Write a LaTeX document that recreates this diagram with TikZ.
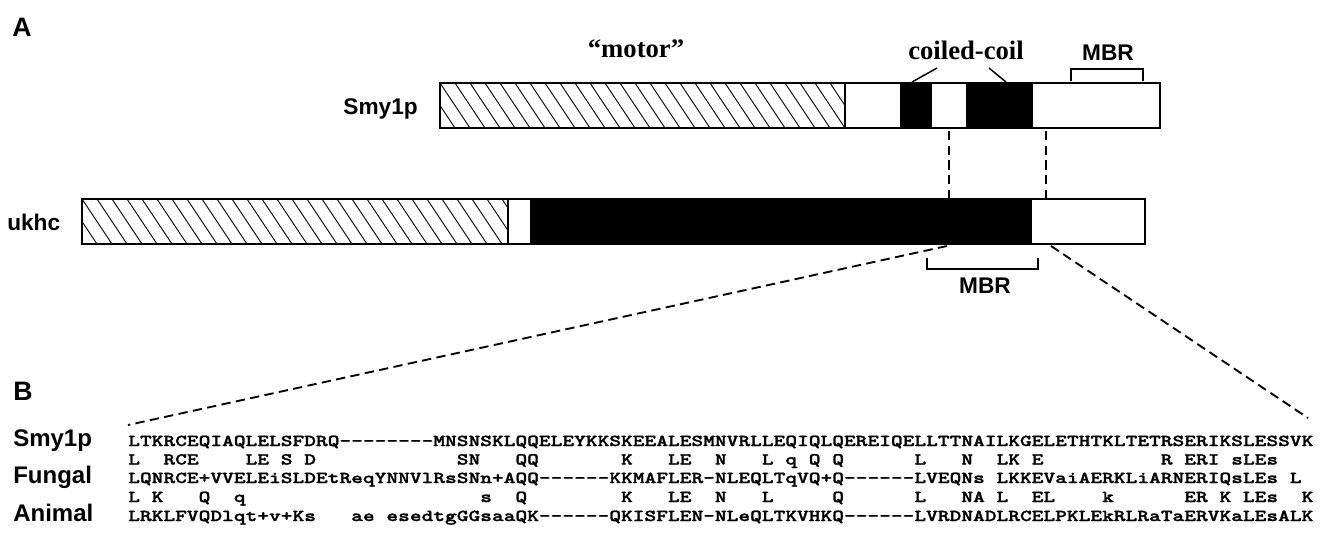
\documentclass[tikz,border=0pt]{standalone}
\usepackage{fontspec}
\newfontfamily\labfont{Liberation Sans}
\newfontfamily\serfont{Liberation Serif}
\newfontfamily\seqfont[Extension=.otf,FakeStretch=1.341,FakeBold=1.6]{lmmonolt10-bold}
\def\seqloop#1{\ifx#1\relax\else\ifx#1.\hbox{\phantom{L}}\else\hbox{#1}\fi\expandafter\seqloop\fi}
\newcommand\seqline[1]{\seqloop#1\relax}
\tikzset{
  lab/.style={font=\labfont\bfseries\fontsize{17pt}{19pt}\selectfont, inner sep=0},
  rowlab/.style={font=\labfont\bfseries\fontsize{18pt}{20pt}\selectfont, inner sep=0, anchor=base west},
  panel/.style={font=\labfont\bfseries\fontsize{20pt}{22pt}\selectfont, inner sep=0},
  serlab/.style={font=\serfont\bfseries\fontsize{20pt}{22pt}\selectfont, inner sep=0},
  seqtxt/.style={font=\seqfont\fontsize{12.5pt}{13pt}\selectfont, anchor=base west, inner sep=0},
  barline/.style={line width=1.5pt},
  sepline/.style={line width=1.1pt},
  hatchline/.style={line width=0.7pt},
  bracket/.style={line width=1.1pt},
  guide/.style={line width=1.4pt, dash pattern=on 7pt off 4pt},
  leader/.style={line width=1.1pt}
}
\begin{document}
\begin{tikzpicture}[x=0.75pt,y=-0.75pt]
\useasboundingbox (0,0) rectangle (1335,540);

% panel letters
\node[panel] (pA) at (22,27) {A};
\node[panel] (pB) at (23,391) {B};

% ---------- Smy1p bar ----------
\begin{scope}
  \clip (440,83) rectangle (845,128);
  \foreach \x in {410,425,...,845} \draw[hatchline] (\x,83) -- (\x+30,128);
\end{scope}
\fill (900,83) rectangle (932,128);
\fill (966,83) rectangle (1033,128);
\draw[sepline] (845,83) -- (845,128);
\draw[barline] (440,83) rectangle (1160,128);

% ---------- ukhc bar ----------
\begin{scope}
  \clip (82,199) rectangle (508,244);
  \foreach \x in {52,67,...,508} \draw[hatchline] (\x,199) -- (\x+30,244);
\end{scope}
\fill (530,199) rectangle (1032,244);
\draw[sepline] (508,199) -- (508,244);
\draw[barline] (82,199) rectangle (1145,244);

% labels panel A
\node[serlab] (motor) at (636,49) {“motor”};
\node[serlab] (cc) at (966,50) {coiled-coil};
\node[lab] (mbrtop) at (1108,53) {MBR};
\node[lab, anchor=base east] (smylab) at (418,114) {Smy1p};
\node[lab, anchor=base west] (ukhclab) at (7,230) {ukhc};
\node[lab] (mbrlow) at (985,286) {MBR};

% coiled-coil leaders
\coordinate (c1a) at (937,68); \coordinate (c1b) at (912,82);
\coordinate (c2a) at (989,68); \coordinate (c2b) at (1006,82);
\draw[leader] (c1a) -- (c1b);
\draw[leader] (c2a) -- (c2b);

% MBR brackets
\coordinate (ub1) at (1071,81); \coordinate (ub2) at (1071,69);
\coordinate (ub3) at (1143,69); \coordinate (ub4) at (1143,81);
\draw[bracket] (ub1) -- (ub2) -- (ub3) -- (ub4);
\coordinate (lb1) at (927,258); \coordinate (lb2) at (927,269);
\coordinate (lb3) at (1038,269); \coordinate (lb4) at (1038,258);
\draw[bracket] (lb1) -- (lb2) -- (lb3) -- (lb4);

% dashed guides
\coordinate (v1a) at (949,131); \coordinate (v1b) at (949,198);
\coordinate (v2a) at (1046,131); \coordinate (v2b) at (1046,198);
\draw[guide] (v1a) -- (v1b);
\draw[guide] (v2a) -- (v2b);
\coordinate (d1a) at (947,246); \coordinate (d1b) at (128,425);
\coordinate (d2a) at (1051,246); \coordinate (d2b) at (1308,418);
\draw[guide] (d1a) -- (d1b);
\draw[guide] (d2a) -- (d2b);

% ---------- panel B sequences ----------
\node[rowlab] (rs) at (13,446) {Smy1p};
\node[rowlab] (rf) at (13,483) {Fungal};
\node[rowlab] (ra) at (13,521) {Animal};

\node[seqtxt] (q1) at (128,446) {\seqline{LTKRCEQIAQLELSFDRQ--------MNSNSKLQQELEYKKSKEEALESMNVRLLEQIQLQEREIQELLTTNAILKGELETHTKLTETRSERIKSLESSVK}};
\node[seqtxt] (q2) at (128,464.5) {\seqline{L..RCE....LE.S.D............SN...QQ.......K...LE..N...L.q.Q.Q......L...N..LK.E..........R.ERI.sLEs}};
\node[seqtxt] (q3) at (128,483) {\seqline{LQNRCE+VVELEiSLDEtReqYNNVlRsSNn+AQQ------KKMAFLER-NLEQLTqVQ+Q------LVEQNs.LKKEVaiAERKLiARNERIQsLEs.L}};
\node[seqtxt] (q4) at (128,502) {\seqline{L.K...Q..q....................s..Q........K...LE..N...L.....Q......L...NA.L..EL....k......ER.K.LEs..K}};
\node[seqtxt] (q5) at (128,521) {\seqline{LRKLFVQDlqt+v+Ks...ae.esedtgGGsaaQK------QKISFLEN-NLeQLTKVHKQ------LVRDNADLRCELPKLEkRLRaTaERVKaLEsALK}};
\end{tikzpicture}
\end{document}
